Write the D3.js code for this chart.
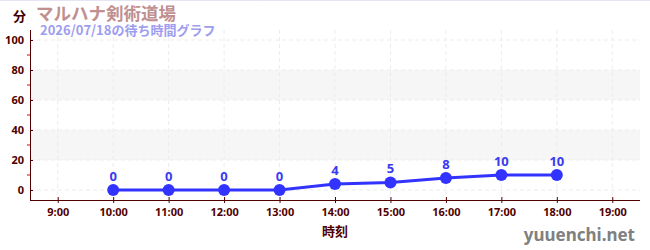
<!DOCTYPE html>
<html>
<head>
<meta charset="utf-8">
<script src="https://cdn.jsdelivr.net/npm/d3@7"></script>
<style>
  body { margin: 0; background: #fff; }
  text { font-family: "Noto Sans CJK JP", "Noto Sans", sans-serif; }
</style>
</head>
<body>
<div id="chart"></div>
<script>
// data
var hours = [10, 11, 12, 13, 14, 15, 16, 17, 18];
var waits = [0, 0, 0, 0, 4, 5, 8, 10, 10];
var xTicks = [9, 10, 11, 12, 13, 14, 15, 16, 17, 18, 19];
var yTicks = [0, 20, 40, 60, 80, 100];
var yMinor = [10, 30, 50, 70, 90];
var bands = [[20, 40], [60, 80]];

var svgWidth = 650;
var svgHeight = 250;

var margin = { top: 30, right: 10, bottom: 50, left: 30 };
var chartWidth = svgWidth - margin.left - margin.right;
var chartHeight = svgHeight - margin.top - margin.bottom;

var svg = d3.select("#chart")
  .append("svg")
  .attr("width", svgWidth)
  .attr("height", svgHeight);

// faint top border
svg.append("line")
  .attr("x1", 0).attr("x2", svgWidth)
  .attr("y1", 0.5).attr("y2", 0.5)
  .attr("stroke", "#e4e4f4");

var g = svg.append("g")
  .attr("transform", `translate(${margin.left}, ${margin.top})`);

var x = d3.scaleLinear().domain([8.5, 19.5]).range([0, chartWidth]);
var y = d3.scaleLinear().domain([-6.67, 106.67]).range([chartHeight, 0]);

// alternating bands
g.selectAll(".band")
  .data(bands)
  .enter()
  .append("rect")
  .attr("x", 0)
  .attr("width", chartWidth)
  .attr("y", d => y(d[1]))
  .attr("height", d => y(d[0]) - y(d[1]))
  .attr("fill", "#f6f6f6");

// grid lines
g.selectAll(".hgrid")
  .data(yTicks)
  .enter()
  .append("line")
  .attr("x1", 0).attr("x2", chartWidth)
  .attr("y1", d => y(d)).attr("y2", d => y(d))
  .attr("stroke", "#ececec")
  .attr("stroke-dasharray", "4,3");

g.selectAll(".vgrid")
  .data(xTicks)
  .enter()
  .append("line")
  .attr("x1", d => x(d)).attr("x2", d => x(d))
  .attr("y1", 0).attr("y2", chartHeight)
  .attr("stroke", "#ececec")
  .attr("stroke-dasharray", "4,3");

// y axis
var yAxis = g.append("g")
  .call(d3.axisLeft(y).tickValues(yTicks).tickSize(3).tickPadding(3));
yAxis.select(".domain").attr("stroke", "#500000").attr("d", `M0.5,0V${chartHeight}`);
yAxis.selectAll(".tick line").attr("stroke", "#500000").attr("x2", 3);
yAxis.selectAll(".tick text")
  .attr("fill", "#500000")
  .attr("font-size", "11px")
  .attr("font-weight", "bold")
  .style("font-family", "'Noto Sans', sans-serif");

g.selectAll(".minor")
  .data(yMinor)
  .enter()
  .append("line")
  .attr("x1", -3).attr("x2", 0)
  .attr("y1", d => y(d)).attr("y2", d => y(d))
  .attr("stroke", "#e00000");

// x axis
var xAxis = g.append("g")
  .attr("transform", `translate(0, ${chartHeight})`)
  .call(d3.axisBottom(x).tickValues(xTicks).tickSize(3).tickPadding(5)
    .tickFormat(d => d + ":00"));
xAxis.select(".domain").attr("stroke", "#500000").attr("d", `M0,0.5H${chartWidth}`);
xAxis.selectAll(".tick line").attr("stroke", "#500000").attr("y1", -3);
xAxis.selectAll(".tick text")
  .attr("fill", "#500000")
  .attr("font-size", "11px")
  .attr("font-weight", "bold")
  .style("font-family", "'Noto Sans', sans-serif");

// line
var line = d3.line()
  .x((d, i) => x(hours[i]))
  .y(d => y(d));

g.append("path")
  .datum(waits)
  .attr("d", line)
  .attr("fill", "none")
  .attr("stroke", "#3333ff")
  .attr("stroke-width", 3);

g.selectAll(".dot")
  .data(waits)
  .enter()
  .append("circle")
  .attr("cx", (d, i) => x(hours[i]))
  .attr("cy", d => y(d))
  .attr("r", 6)
  .attr("fill", "#3333ff");

g.selectAll(".val")
  .data(waits)
  .enter()
  .append("text")
  .attr("x", (d, i) => x(hours[i]))
  .attr("y", d => y(d) - 9)
  .attr("text-anchor", "middle")
  .attr("fill", "#3a3af0")
  .attr("font-size", "13px")
  .attr("font-weight", "bold")
  .style("font-family", "'Noto Sans', sans-serif")
  .text(d => d);

// titles
svg.append("text")
  .attr("x", 13).attr("y", 21)
  .attr("fill", "#400000")
  .attr("font-size", "13px")
  .attr("font-weight", "bold")
  .text("分");

svg.append("text")
  .attr("x", 36).attr("y", 20)
  .attr("fill", "#c09090")
  .attr("font-size", "17.5px")
  .attr("font-weight", "bold")
  .text("マルハナ剣術道場");

svg.append("text")
  .attr("x", 40).attr("y", 35)
  .attr("fill", "#9d9df0")
  .attr("font-size", "13px")
  .attr("font-weight", "bold")
  .text("2026/07/18の待ち時間グラフ");

svg.append("text")
  .attr("x", margin.left + chartWidth / 2).attr("y", 236)
  .attr("text-anchor", "middle")
  .attr("fill", "#500000")
  .attr("font-size", "13px")
  .attr("font-weight", "bold")
  .text("時刻");

svg.append("text")
  .attr("x", 635).attr("y", 241)
  .attr("text-anchor", "end")
  .attr("fill", "#808080")
  .attr("font-size", "17px")
  .attr("font-weight", "bold")
  .style("font-family", "'Noto Sans', sans-serif")
  .text("yuuenchi.net");
</script>
</body>
</html>
